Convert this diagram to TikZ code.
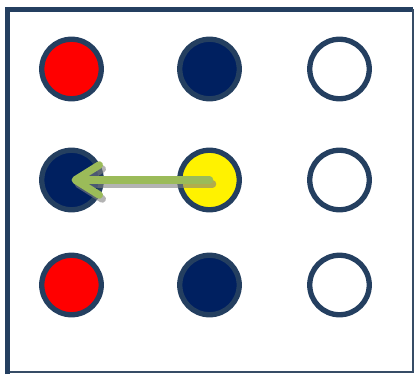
\documentclass[tikz,border=0pt]{standalone}
\usetikzlibrary{arrows.meta}

\definecolor{rim}{HTML}{243F60}
\definecolor{navy}{HTML}{002060}
\definecolor{leaf}{HTML}{9BBB59}

\tikzset{
	dot/.style={circle, draw=rim, line width=5.3pt, minimum size=59.5pt, inner sep=0pt},
	jump/.style={line width=7.5pt, line cap=round, -{Straight Barb[length=24pt, width=30pt, round]}},
}

\begin{document}
\begin{tikzpicture}[x=1pt, y=-1pt]
		\useasboundingbox (0,0) rectangle (414,374);
		% frame
		\draw[rim, line width=5pt] (7.5,374) -- (7.5,9.5) -- (413,9.5);
		\draw[rim!80!gray, line width=2pt] (413.3,9.5) -- (413.3,372.2) -- (10,372.2);
		
		\node[dot, fill=red]   (tl) at (71.5,69) {};
		\node[dot, fill=navy]  (tm) at (209.5,69) {};
		\node[dot, fill=white] (tr) at (339.5,69) {};
		\node[dot, fill=navy]  (ml) at (71.5,180) {};
		\node[dot, fill=yellow](mm) at (209.5,180) {};
		\node[dot, fill=white] (mr) at (339.5,180) {};
		\node[dot, fill=red]   (bl) at (71.5,285) {};
		\node[dot, fill=navy]  (bm) at (209.5,285) {};
		\node[dot, fill=white] (br) at (339.5,285) {};
		
		\draw[jump, gray, opacity=0.6, transform canvas={xshift=3pt, yshift=-4pt}] (mm.center) -- (ml.center);
		\draw[jump, leaf] (mm.center) -- (ml.center);
	\end{tikzpicture}
\end{document}
